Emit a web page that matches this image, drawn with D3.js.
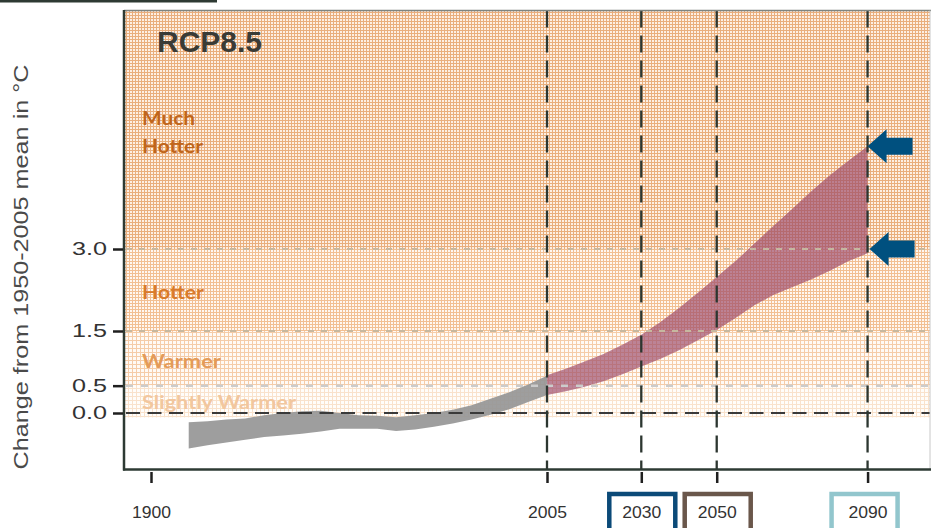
<!DOCTYPE html>
<html>
<head>
<meta charset="utf-8">
<script src="https://cdn.jsdelivr.net/npm/d3@7"></script>
<style>
  body { margin: 0; background: #fff; }
  svg { display: block; }
</style>
</head>
<body>
<svg id="chart" width="931" height="528"></svg>
<script>
// Observed temperatures (grey band), change from the 1950-2005 mean in °C
var histYears = [1910, 1915, 1920, 1925, 1930, 1935, 1940, 1945, 1950, 1955,
                 1960, 1965, 1970, 1975, 1980, 1985, 1990, 1995, 2000, 2005];
var histHigh = [-0.17, -0.15, -0.12, -0.10, -0.04, 0.00, 0.03, 0.04, 0.00, -0.04,
                -0.05, -0.08, -0.04, 0.00, 0.06, 0.14, 0.26, 0.38, 0.52, 0.68];
var histLow = [-0.65, -0.59, -0.54, -0.49, -0.44, -0.41, -0.38, -0.34, -0.29, -0.29,
               -0.29, -0.33, -0.30, -0.25, -0.19, -0.12, -0.03, 0.07, 0.20, 0.33];

// RCP8.5 projection (red band)
var projYears = [2005, 2010, 2015, 2020, 2025, 2030, 2035, 2040, 2045,
                 2050, 2055, 2060, 2065, 2070, 2075, 2080, 2085, 2090];
var projHigh = [0.69, 0.81, 0.94, 1.08, 1.25, 1.43, 1.66, 1.92, 2.20,
                2.49, 2.78, 3.10, 3.42, 3.73, 4.05, 4.35, 4.62, 4.88];
var projLow = [0.33, 0.40, 0.48, 0.58, 0.71, 0.85, 0.99, 1.15, 1.33,
               1.52, 1.74, 1.97, 2.16, 2.30, 2.44, 2.60, 2.78, 2.92];

// Warming categories
var bandNames = ["Much Hotter", "Hotter", "Warmer", "Slightly Warmer"];
var bandFrom = [3.0, 1.5, 0.5, -0.08];
var bandTo = [7.4, 3.0, 1.5, 0.5];

// Axes
var xTicks = [1900, 2005, 2030, 2050, 2090];
var yTicks = [0.0, 0.5, 1.5, 3.0];
var markerYears = [2005, 2030, 2050, 2090];
var boxYears = [2030, 2050, 2090];
var arrowValues = [4.88, 3.0];

var svg = d3.select("#chart"),
    plotLeft = 124, plotRight = 930, plotTop = 10.5, plotBottom = 469.5,
    x = d3.scaleLinear().domain([1900, 2005]).range([151, 547]),
    y = d3.scaleLinear().domain([0, 3]).range([413, 249]);

var bandStyle = [
    { bg: "#fdefe3", line: "#e9ae7c", size: 3, label: "#c0651b" },
    { bg: "#fff7f0", line: "#f2bf92", size: 3, label: "#d97b2b" },
    { bg: "#fffaf5", line: "#f5cca8", size: 4, label: "#e49b58" },
    { bg: "#fffdfa", line: "#f9e2cc", size: 4, label: "#f2c79e" }
];
var boxColors = ["#0b4a78", "#6a574b", "#92c6cd"];

var defs = svg.append("defs");
bandStyle.forEach(function (s, i) {
    var p = defs.append("pattern")
        .attr("id", "band" + i)
        .attr("patternUnits", "userSpaceOnUse")
        .attr("width", s.size).attr("height", s.size);
    p.append("rect").attr("width", s.size).attr("height", s.size).attr("fill", s.bg);
    p.append("rect").attr("width", 1).attr("height", s.size).attr("fill", s.line);
    p.append("rect").attr("width", s.size).attr("height", 1).attr("fill", s.line);
});

// Stray bar at top-left of the original crop
svg.append("rect")
    .attr("x", 0).attr("y", 0).attr("width", 217).attr("height", 2.5)
    .attr("fill", "#2e3a33");

// Background bands
svg.append("g").selectAll("rect")
    .data(bandNames)
    .join("rect")
    .attr("x", plotLeft)
    .attr("width", plotRight - plotLeft)
    .attr("y", function (d, i) { return Math.max(plotTop, y(bandTo[i])); })
    .attr("height", function (d, i) { return y(bandFrom[i]) - Math.max(plotTop, y(bandTo[i])); })
    .attr("fill", function (d, i) { return "url(#band" + i + ")"; });

// Category labels
var labelBaselines = [[125, 153], [299], [368], [409]];
var labelWidths = [[53, 61], [62], [79], [154]];
bandNames.forEach(function (name, i) {
    var lines = i === 0 ? name.split(" ") : [name];
    lines.forEach(function (ln, j) {
        svg.append("text")
            .attr("x", 142)
            .attr("y", labelBaselines[i][j])
            .attr("font-family", "Lato, 'Open Sans', sans-serif")
            .attr("font-weight", 700)
            .attr("font-size", 19)
            .attr("fill", bandStyle[i].label)
            .attr("textLength", labelWidths[i][j])
            .attr("lengthAdjust", "spacingAndGlyphs")
            .text(ln);
    });
});

// Observed band
var histArea = d3.area()
    .x(function (d) { return x(d); })
    .y0(function (d, i) { return y(histLow[i]); })
    .y1(function (d, i) { return y(histHigh[i]); });

svg.append("path")
    .datum(histYears)
    .attr("d", histArea)
    .attr("fill", "#969696")
    .attr("fill-opacity", 0.92);

// Projection band
var projArea = d3.area()
    .x(function (d) { return x(d); })
    .y0(function (d, i) { return y(projLow[i]); })
    .y1(function (d, i) { return y(projHigh[i]); });

svg.append("path")
    .datum(projYears)
    .attr("d", projArea)
    .attr("fill", "#9c4a68")
    .attr("fill-opacity", 0.68);

// Horizontal reference lines
var refStyle = [
    { color: "#3a3a3a", width: 2, dash: "14,7.5" },
    { color: "#cccccc", width: 2.5, dash: "7,8" },
    { color: "#c6b8a0", width: 2, dash: "6,7" },
    { color: "#c6b8a0", width: 2, dash: "6,7" }
];
svg.append("g").selectAll("line")
    .data(yTicks)
    .join("line")
    .attr("x1", plotLeft + 2).attr("x2", plotRight)
    .attr("y1", function (d) { return y(d); })
    .attr("y2", function (d) { return y(d); })
    .attr("stroke", function (d, i) { return refStyle[i].color; })
    .attr("stroke-width", function (d, i) { return refStyle[i].width; })
    .attr("stroke-dasharray", function (d, i) { return refStyle[i].dash; });

// Vertical markers
svg.append("g").selectAll("line")
    .data(markerYears)
    .join("line")
    .attr("x1", function (d) { return x(d); })
    .attr("x2", function (d) { return x(d); })
    .attr("y1", plotTop).attr("y2", plotBottom)
    .attr("stroke", "#2c3630")
    .attr("stroke-width", 2.3)
    .attr("stroke-dasharray", "17,8");

// Arrows at 2090
svg.append("g").selectAll("path")
    .data(arrowValues)
    .join("path")
    .attr("d", function (d, i) {
        var tx = x(2090) + (i === 0 ? 0 : 2), ty = y(d);
        return "M" + tx + "," + ty +
            "L" + (tx + 19) + "," + (ty - 17) +
            "L" + (tx + 19) + "," + (ty - 8.5) +
            "L" + (tx + 45) + "," + (ty - 8.5) +
            "L" + (tx + 45) + "," + (ty + 8.5) +
            "L" + (tx + 19) + "," + (ty + 8.5) +
            "L" + (tx + 19) + "," + (ty + 17) + "Z";
    })
    .attr("fill", "#00507f");

// Title
svg.append("text")
    .attr("x", 157).attr("y", 52)
    .attr("font-family", "'Liberation Sans', Arial, sans-serif")
    .attr("font-weight", 700)
    .attr("font-size", 30)
    .attr("fill", "#3a3b36")
    .attr("textLength", 105)
    .attr("lengthAdjust", "spacingAndGlyphs")
    .text("RCP8.5");

// Frame
svg.append("line")
    .attr("x1", plotLeft).attr("x2", 931)
    .attr("y1", plotTop).attr("y2", plotTop)
    .attr("stroke", "#7f8580").attr("stroke-width", 1.5);
svg.append("line")
    .attr("x1", plotRight).attr("x2", plotRight)
    .attr("y1", plotTop).attr("y2", plotBottom)
    .attr("stroke", "#c8c8c8").attr("stroke-width", 1);
svg.append("line")
    .attr("x1", plotLeft).attr("x2", plotLeft)
    .attr("y1", plotTop - 0.5).attr("y2", plotBottom + 1)
    .attr("stroke", "#2d3a33").attr("stroke-width", 2.5);
svg.append("line")
    .attr("x1", plotLeft - 1).attr("x2", 931)
    .attr("y1", plotBottom).attr("y2", plotBottom)
    .attr("stroke", "#2d3a33").attr("stroke-width", 2.5);

// Label boxes below the axis
svg.append("g").selectAll("rect")
    .data(boxYears)
    .join("rect")
    .attr("x", function (d, i) { return x(d) - (i === 2 ? 36 : 32); })
    .attr("y", 494)
    .attr("width", 66)
    .attr("height", 50)
    .attr("fill", "none")
    .attr("stroke", function (d, i) { return boxColors[i]; })
    .attr("stroke-width", 4.5);

// X axis
var gx = svg.append("g")
    .attr("transform", "translate(0,472)")
    .call(d3.axisBottom(x).tickValues(xTicks).tickSize(11).tickPadding(23.5)
        .tickFormat(d3.format("d")));
gx.select(".domain").remove();
gx.selectAll(".tick line").attr("stroke", "#1f1f1f").attr("stroke-width", 2.5);
gx.selectAll(".tick text")
    .attr("font-family", "'Liberation Sans', Arial, sans-serif")
    .attr("font-size", 16)
    .attr("fill", "#333")
    .attr("textLength", 39)
    .attr("lengthAdjust", "spacingAndGlyphs");

// Y axis
var gy = svg.append("g")
    .attr("transform", "translate(123,0)")
    .call(d3.axisLeft(y).tickValues(yTicks).tickSize(10).tickPadding(6)
        .tickFormat(d3.format(".1f")));
gy.select(".domain").remove();
gy.selectAll(".tick line").attr("stroke", "#1f1f1f").attr("stroke-width", 2.5);
gy.selectAll(".tick text")
    .attr("font-family", "'Liberation Sans', Arial, sans-serif")
    .attr("font-size", 18)
    .attr("fill", "#333")
    .attr("textLength", 35)
    .attr("lengthAdjust", "spacingAndGlyphs");

// Y axis title
svg.append("text")
    .attr("transform", "translate(28,267) rotate(-90)")
    .attr("text-anchor", "middle")
    .attr("font-family", "'Liberation Sans', Arial, sans-serif")
    .attr("font-size", 21)
    .attr("fill", "#4a4a4a")
    .attr("textLength", 405)
    .attr("lengthAdjust", "spacingAndGlyphs")
    .text("Change from 1950-2005 mean in °C");
</script>
</body>
</html>
